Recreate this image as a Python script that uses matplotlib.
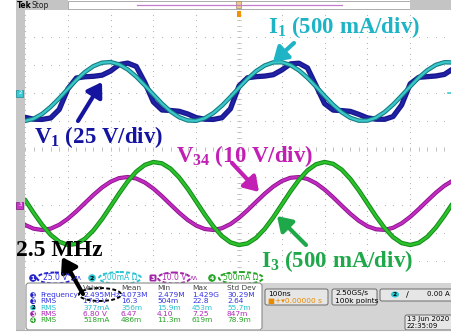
import matplotlib
matplotlib.use("Agg")
import matplotlib.pyplot as plt
from matplotlib.patches import Rectangle, FancyBboxPatch, Ellipse, Circle
import numpy as np

plt.rcParams["mathtext.fontset"] = "custom"
plt.rcParams["mathtext.rm"] = "Liberation Serif:bold"
plt.rcParams["mathtext.bf"] = "Liberation Serif:bold"
plt.rcParams["mathtext.it"] = "Liberation Serif:bold"

# ---------------- data ----------------
# time base 100 ns/div, samples every 20 ns across the 10 divisions
time_ns = list(range(-500, 501, 20))

v1_V = [-21.7, -23.4, -23.6, -22.3, -14.7, 3.6, 13.4, 14.5, 14.9, 15.9,
        19.6, 25.4, 26.7, 23.7, 9.4, -8.0, -15.2, -15.6, -16.3, -18.7,
        -22.0, -23.4, -23.6, -22.1, -14.1, 6.3, 13.6, 14.6, 15.1, 16.3,
        20.5, 26.0, 26.6, 22.4, 6.6, -9.5, -15.3, -15.7, -16.4, -19.1,
        -22.2, -23.4, -23.5, -21.0, -10.7, 8.2, 14.0, 14.6, 15.2, 16.6,
        21.6]
i1_mA = [-499, -460, -374, -247, -94, 72, 233, 374, 480, 541,
         552, 510, 420, 291, 136, -29, -190, -329, -432, -490,
         -496, -451, -358, -227, -71, 95, 254, 391, 491, 546,
         549, 500, 404, 271, 114, -53, -211, -345, -443, -494,
         -493, -441, -342, -207, -48, 118, 275, 407, 502, 549,
         545]
v34_V = [-7.11, -8.46, -8.92, -8.44, -7.06, -4.93, -2.26, 0.69, 3.62, 6.25,
         8.31, 9.61, 10.00, 9.45, 8.02, 5.84, 3.14, 0.18, -2.74, -5.34,
         -7.35, -8.58, -8.91, -8.30, -6.81, -4.59, -1.86, 1.11, 4.02, 6.58,
         8.55, 9.72, 9.98, 9.30, 7.75, 5.49, 2.74, -0.23, -3.13, -5.66,
         -7.58, -8.68, -8.88, -8.14, -6.54, -4.23, -1.45, 1.52, 4.40, 6.89,
         8.76]
i3_mA = [95, -138, -354, -533, -656, -712, -694, -604, -452, -253,
         -25, 207, 422, 597, 716, 767, 743, 649, 493, 291,
         62, -170, -382, -554, -668, -714, -686, -587, -427, -222,
         8, 239, 449, 618, 727, 768, 734, 631, 467, 260,
         30, -201, -409, -574, -679, -714, -676, -568, -401, -191,
         40]

# vertical scale per division and ground offsets (divisions)
ch_scale = [25.0, 500.0, 10.0, 500.0]
ch_offset = [2.0, 2.0, -2.0, -2.0]
ch_setting = ["25.0 V", "500mA \u03a9", "10.0 V", "500mA \u03a9"]

meas_ch = [1, 1, 2, 3, 4]
meas_name = ["Frequency", "RMS", "RMS", "RMS", "RMS"]
meas_value = ["2.495MHz", "17.3 V", "377mA", "6.80 V", "518mA"]
meas_mean = ["4.073M", "16.3", "356m", "6.47", "486m"]
meas_min = ["2.479M", "504m", "15.9m", "4.10", "11.3m"]
meas_max = ["1.429G", "22.8", "453m", "7.25", "619m"]
meas_std = ["30.29M", "2.64", "55.7m", "847m", "78.9m"]

# ---------------- figure ----------------
W, H = 452, 335
fig = plt.figure(figsize=(W / 100, H / 100), dpi=100)
fig.patch.set_facecolor("white")

ax = fig.add_axes([25 / W, (H - 289) / H, 428 / W, 280 / H])
ax.set_xlim(-500, 500)
ax.set_ylim(-5, 5)
ax.axis("off")

gc = "#b8b8b8"
ys = np.arange(-5, 5.001, 0.2)
xs = np.arange(-500, 500.1, 20)
for i in range(-5, 6):
    ax.plot([i * 100] * len(ys), ys, ls="none", marker="s", ms=0.75, mew=0, color=gc, zorder=1)
    ax.plot(xs, [i] * len(xs), ls="none", marker="s", ms=0.75, mew=0, color=gc, zorder=1)
for y in ys:
    ax.plot([-4, 4], [y, y], color=gc, lw=0.5, zorder=1)
for x in xs:
    ax.plot([x, x], [-0.06, 0.06], color=gc, lw=0.5, zorder=1)

t = np.array(time_ns)
def trace(vals, k, outer, inner, lo, li, z):
    y = ch_offset[k] + np.array(vals) / ch_scale[k]
    ax.plot(t, y, color=outer, lw=lo, solid_joinstyle="round", solid_capstyle="round", zorder=z)
    if inner:
        ax.plot(t, y, color=inner, lw=li, solid_joinstyle="round", solid_capstyle="round", zorder=z + 0.1)

trace(v1_V, 0, "#181890", "#2222a8", 3.8, 1.6, 3)
trace(i1_mA, 1, "#0f7a80", "#3cc6c8", 3.2, 1.7, 4)
trace(v34_V, 2, "#8c108c", "#c02cc0", 3.0, 1.8, 3)
trace(i3_mA, 3, "#128a18", "#2cc02c", 3.2, 1.8, 4)

# ---------------- overlay (pixel coordinates) ----------------
ov = fig.add_axes([0, 0, 1, 1])
ov.set_xlim(0, W)
ov.set_ylim(H, 0)
ov.axis("off")
ov.patch.set_alpha(0)
ov.set_zorder(5)

# header
ov.add_patch(Rectangle((16, 0), 52, 9.5, fc="#c4c4c4", ec="none"))
ov.add_patch(Rectangle((68, 0.5), 342, 8.5, fc="white", ec="#a0a0a0", lw=0.6))
ov.add_patch(Rectangle((410, 0), 42, 9.5, fc="#c4c4c4", ec="none"))
ov.plot([137, 342], [5, 5], color="#c27ccc", lw=0.9)
ov.add_patch(Rectangle((236.5, 1.2), 5, 7, fc="#f2c98a", ec="#9a8a70", lw=0.5))
ov.add_patch(Rectangle((237, 11), 4, 6, fc="#f39200", ec="none"))
ov.text(16.5, 5, "Tek", fontsize=5.5, fontweight="bold", va="center", ha="left", color="black")
ov.text(32, 5, "Stop", fontsize=5.5, va="center", ha="left", color="#202020")

# left strip and frame
ov.add_patch(Rectangle((16, 9.5), 9, 321, fc="#c6c6c6", ec="none"))
ov.add_patch(Rectangle((25, 270), 427, 60, fc="white", ec="none"))
ov.add_patch(Rectangle((262, 283), 190, 47, fc="#d4d4d4", ec="none"))
ov.plot([16, 452], [330, 330], color="#b0b0b0", lw=0.8)
ov.add_patch(Rectangle((16.5, 89.5), 7, 7, fc="#3cc8d4", ec="#1a8a90", lw=0.5))
ov.text(20, 93, "2", fontsize=4, ha="center", va="center", color="white")
ov.add_patch(Rectangle((16.5, 201.5), 7, 7, fc="#c03cc0", ec="#801080", lw=0.5))
ov.text(20, 205, "3", fontsize=4, ha="center", va="center", color="white")
ov.plot([448, 452], [93, 93], color="#3cc8d4", lw=1.2)

# annotations
serif = dict(family="Liberation Serif", fontweight="bold", fontsize=16.5, va="baseline", ha="left")
ov.text(268, 33, r"$\mathbf{I}_{\mathbf{1}}$ (500 mA/div)", color="#1eb4c6", **serif)
ov.text(34, 143, r"$\mathbf{V}_{\mathbf{1}}$ (25 V/div)", color="#1414a0", **serif)
ov.text(176, 162, r"$\mathbf{V}_{\mathbf{34}}$ (10 V/div)", color="#c21fb4", **serif)
ov.text(261, 267, r"$\mathbf{I}_{\mathbf{3}}$ (500 mA/div)", color="#1fa84a", **serif)
ov.text(16, 256, "2.5 MHz", family="Liberation Serif", fontweight="bold", fontsize=17,
        va="baseline", ha="left", color="black")

def arrow(tail, tip, color):
    ov.annotate("", xy=tip, xytext=tail,
                arrowprops=dict(arrowstyle="-|>,head_length=0.7,head_width=0.45",
                                lw=3.0, color=color, mutation_scale=12,
                                shrinkA=0, shrinkB=0))

arrow((294, 43), (273, 62), "#1eb4c6")
arrow((78, 121), (102, 82), "#1414a0")
arrow((232, 163), (259, 192), "#c21fb4")
arrow((306, 245), (277, 216), "#1fa84a")
arrow((83, 294), (62, 257), "black")

# channel settings row
ch_fill = ["#2424c8", "#2cc4d2", "#a024a8", "#24a424"]
ch_text = ["#3232e6", "#26c0d0", "#b028b8", "#22a422"]
row_y = 278
badge_x = [33, 92, 153, 212]
ell = [(55, 36, 11), (120, 42, 12), (174, 32, 11), (241, 44, 12)]
for k in range(4):
    if k == 2:
        ov.add_patch(FancyBboxPatch((badge_x[k] - 3.5, row_y - 3.5), 7, 7,
                                    boxstyle="round,pad=0,rounding_size=1.5",
                                    fc=ch_fill[k], ec="none"))
    else:
        ov.add_patch(Circle((badge_x[k], row_y), 3.8, fc=ch_fill[k], ec="none"))
    ov.text(badge_x[k], row_y + 0.3, str(k + 1), fontsize=4.5, ha="center", va="center",
            color="black" if k == 1 else "white", fontweight="bold")
    cx, w, h = ell[k]
    ov.text(cx, row_y, ch_setting[k], fontsize=5.5, ha="center", va="center", color=ch_text[k])
    ov.add_patch(Ellipse((cx, row_y), w, h, fc="none", ec=ch_fill[k], lw=1.4, ls=(0, (2, 1.2))))
ov.text(72, row_y, "\u2197\u028c", fontsize=5, ha="left", va="center", color=ch_text[0])
ov.text(190, row_y, "\u028c\u028c", fontsize=5, ha="left", va="center", color=ch_text[2])

# measurement table
ov.add_patch(FancyBboxPatch((26, 283), 236, 47, boxstyle="round,pad=0,rounding_size=3",
                            fc="white", ec="#8a8a8a", lw=0.8))
cols_x = [83, 121, 157, 192, 227]
for x, h in zip(cols_x, ["Value", "Mean", "Min", "Max", "Std Dev"]):
    ov.text(x, 287.5, h, fontsize=5.3, ha="left", va="center", color="#404040")
row_ys = [295, 301.3, 307.6, 313.9, 320.2]
for r in range(5):
    k = meas_ch[r] - 1
    y = row_ys[r]
    ov.add_patch(Circle((33, y), 2.8, fc=ch_fill[k], ec="none"))
    ov.text(33, y + 0.2, str(meas_ch[r]), fontsize=3.8, ha="center", va="center",
            color="black" if k == 1 else "white", fontweight="bold")
    ov.text(40, y, meas_name[r], fontsize=5.3, ha="left", va="center", color=ch_text[k])
    for x, col in zip(cols_x, [meas_value, meas_mean, meas_min, meas_max, meas_std]):
        ov.text(x, y, col[r], fontsize=5.3, ha="left", va="center", color=ch_text[k])
ov.add_patch(Ellipse((100, 294.5), 42, 13, fc="none", ec="black", lw=1.4, ls=(0, (2, 1.2))))

# right-hand status boxes
def sbox(x, y, w, h):
    ov.add_patch(FancyBboxPatch((x, y), w, h, boxstyle="round,pad=0,rounding_size=2",
                                fc="#e6e6e6", ec="#6a6a6a", lw=0.7))
sbox(265, 289, 63, 16)
ov.text(268, 293.5, "100ns", fontsize=5.3, ha="left", va="center", color="black")
ov.text(268, 300.5, "\u25a0+\u25be0.00000 s", fontsize=5.3, ha="left", va="center", color="#e88a00")
sbox(332, 289, 45, 16)
ov.text(335, 293.5, "2.50GS/s", fontsize=5.3, ha="left", va="center", color="black")
ov.text(335, 300.5, "100k points", fontsize=5.3, ha="left", va="center", color="black")
sbox(380, 289, 74, 12)
ov.add_patch(Ellipse((395, 294.5), 8, 6, fc="#2cc4d2", ec="none"))
ov.text(395, 294.7, "2", fontsize=4.2, ha="center", va="center", color="black", fontweight="bold")
ov.text(406, 294.5, "\u2215", fontsize=6, ha="left", va="center", color="black")
ov.text(427, 294.5, "0.00 A", fontsize=5.0, ha="left", va="center", color="black")
sbox(405, 315, 49, 15)
ov.text(407, 319, "13 Jun 2020", fontsize=5.0, ha="left", va="center", color="black")
ov.text(407, 326, "22:35:09", fontsize=5.0, ha="left", va="center", color="black")

fig.savefig("out.png", dpi=100, facecolor="white")
